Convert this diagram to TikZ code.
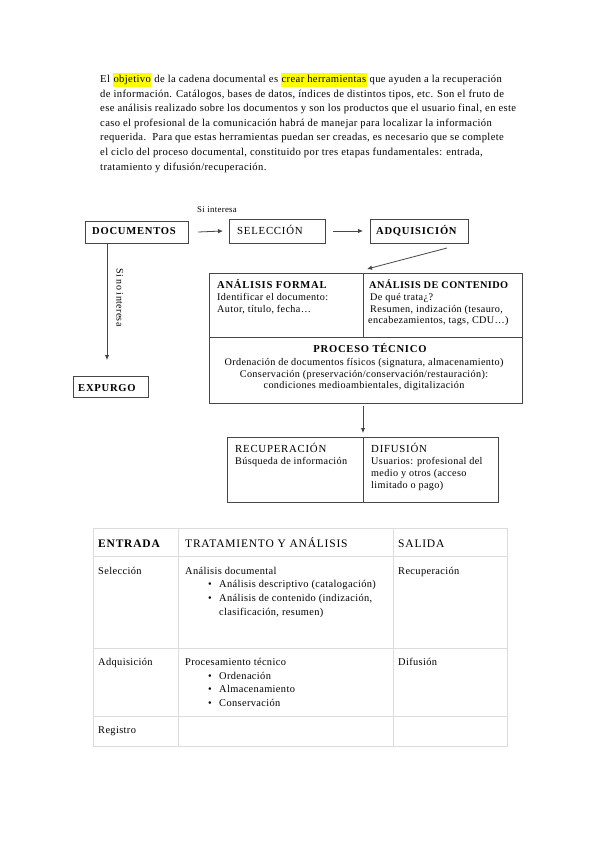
\documentclass[tikz,border=0pt]{standalone}
\usepackage{fontspec}
\setmainfont[LetterSpace=3.5]{Liberation Serif}
\newfontfamily\hdfont[LetterSpace=7]{Liberation Serif}
\newfontfamily\hdtightfont[LetterSpace=4]{Liberation Serif}
\usetikzlibrary{arrows.meta}
\definecolor{boxgray}{HTML}{474747}
\definecolor{tabgray}{HTML}{DCDCDC}
\definecolor{hlyellow}{HTML}{FFFF00}
\newcommand{\hlt}[1]{{\setlength{\fboxsep}{0.5pt}\colorbox{hlyellow}{\strut #1}}}
\begin{document}
\begin{tikzpicture}[x=1pt,y=-1pt,
  ptxt/.style={anchor=base west, inner sep=0pt, font=\fontsize{10.6}{12.5}\selectfont},
  btxt/.style={anchor=base west, inner sep=0pt, font=\fontsize{10.2}{12}\selectfont},
  htxt/.style={anchor=base west, inner sep=0pt, font=\hdfont\fontsize{10.6}{12}\selectfont\bfseries},
  hrtxt/.style={anchor=base west, inner sep=0pt, font=\hdfont\fontsize{10.8}{12}\selectfont},
  ttxt/.style={anchor=base west, inner sep=0pt, font=\fontsize{10.4}{12}\selectfont},
  thead/.style={anchor=base west, inner sep=0pt, font=\hdfont\fontsize{11.5}{13}\selectfont},
  box/.style={draw=boxgray, line width=0.8pt, anchor=north west, inner sep=0pt, outer sep=0pt},
  cell/.style={draw=tabgray, line width=0.8pt, anchor=north west, inner sep=0pt, outer sep=0pt},
  arr/.style={draw=boxgray, line width=0.8pt, -{Latex[length=5pt,width=4.5pt]}},
]
\useasboundingbox[fill=white] (0,0) rectangle (599,848);

% paragraph
\node[ptxt] (p1) at (100,82.5) {El \hlt{objetivo} de la cadena documental es \hlt{crear herramientas} que ayuden a la recuperación};
\node[ptxt] (p2) at (100,97.1) {de información. Catálogos, bases de datos, índices de distintos tipos, etc. Son el fruto de};
\node[ptxt] (p3) at (100,111.7) {ese análisis realizado sobre los documentos y son los productos que el usuario final, en este};
\node[ptxt] (p4) at (100,126.3) {caso el profesional de la comunicación habrá de manejar para localizar la información};
\node[ptxt] (p5) at (100,140.9) {requerida.\ \ Para que estas herramientas puedan ser creadas, es necesario que se complete};
\node[ptxt] (p6) at (100,155.5) {el ciclo del proceso documental, constituido por tres etapas fundamentales: entrada,};
\node[ptxt] (p7) at (100,170.1) {tratamiento y difusión/recuperación.};

% top row boxes
\node[box, minimum width=103, minimum height=22] (doc) at (85,221) {};
\node[htxt] (doct) at (92,234.5) {DOCUMENTOS};
\node[box, minimum width=96, minimum height=24] (sel) at (229,219) {};
\node[hrtxt] (selt) at (237,234.5) {SELECCIÓN};
\node[box, minimum width=98, minimum height=24] (adq) at (370,219) {};
\node[htxt] (adqt) at (376,234.5) {ADQUISICIÓN};
\node[anchor=base west, inner sep=0pt, font=\fontsize{8.8}{10}\selectfont] (si) at (197,212) {Si interesa};

\draw[arr] ([xshift=10pt]doc.east) -- ([xshift=-6pt]sel.west);
\draw[arr] ([xshift=8pt]sel.east) -- ([xshift=-7pt]adq.west);

% expurgo
\node[box, minimum width=75, minimum height=21] (exp) at (73,376) {};
\node[htxt] (expt) at (78,391) {EXPURGO};
\coordinate (c1) at (107,360);
\draw[arr] ([xshift=22pt]doc.south west) -- (c1);
\node[anchor=north west, inner sep=0pt, rotate=-90, font=\fontsize{10}{11}\selectfont] (sino) at (123.5,268) {Si no interesa};

% big box
\node[box, minimum width=154, minimum height=64] (formal) at (209,273) {};
\node[box, minimum width=159, minimum height=64] (cont) at (363,273) {};
\node[box, minimum width=313, minimum height=66] (proc) at (209,337) {};
\node[htxt] (formalh) at (217,288) {ANÁLISIS FORMAL};
\node[btxt] (formal1) at (217,300.5) {Identificar el documento:};
\node[btxt] (formal2) at (217,312) {Autor, título, fecha…};
\node[htxt, font=\hdtightfont\fontsize{10.3}{12}\selectfont\bfseries] (conth) at (369,288) {ANÁLISIS DE CONTENIDO};
\node[btxt] (cont1) at (370,300.5) {De qué trata¿?};
\node[btxt] (cont2) at (370,312) {Resumen, indización (tesauro,};
\node[btxt] (cont3) at (368,323.5) {encabezamientos, tags, CDU…)};
\node[htxt, anchor=base] (proch) at (370,352) {PROCESO TÉCNICO};
\node[btxt, anchor=base] (proc1) at (364,365.5) {Ordenación de documentos físicos (signatura, almacenamiento)};
\node[btxt, anchor=base] (proc2) at (364,377) {Conservación (preservación/conservación/restauración):};
\node[btxt, anchor=base] (proc3) at (364,388.5) {condiciones medioambientales, digitalización};

\draw[arr] ([xshift=-21pt,yshift=-5pt]adq.south east) -- ([xshift=4pt,yshift=4pt]formal.north east);

% bottom boxes
\node[box, minimum width=136, minimum height=65] (rec) at (227,437) {};
\node[box, minimum width=135, minimum height=65] (dif) at (363,437) {};
\node[hrtxt] (rech) at (235,452) {RECUPERACIÓN};
\node[btxt] (rec1) at (235,464.5) {Búsqueda de información};
\node[hrtxt] (difh) at (371,452) {DIFUSIÓN};
\node[btxt] (dif1) at (371,464.5) {Usuarios: profesional del};
\node[btxt] (dif2) at (371,476.5) {medio y otros (acceso};
\node[btxt] (dif3) at (371,488.5) {limitado o pago)};
\draw[arr] ([yshift=-3pt]proc.south -| rec.north east) -- ([yshift=4pt]rec.north east);

% table
\node[cell, minimum width=85, minimum height=28] (h1) at (93,528) {};
\node[cell, minimum width=215, minimum height=28] (h2) at (178,528) {};
\node[cell, minimum width=114, minimum height=28] (h3) at (393,528) {};
\node[cell, minimum width=85, minimum height=92] (r1a) at (93,556) {};
\node[cell, minimum width=215, minimum height=92] (r1b) at (178,556) {};
\node[cell, minimum width=114, minimum height=92] (r1c) at (393,556) {};
\node[cell, minimum width=85, minimum height=68] (r2a) at (93,648) {};
\node[cell, minimum width=215, minimum height=68] (r2b) at (178,648) {};
\node[cell, minimum width=114, minimum height=68] (r2c) at (393,648) {};
\node[cell, minimum width=85, minimum height=30] (r3a) at (93,716) {};
\node[cell, minimum width=215, minimum height=30] (r3b) at (178,716) {};
\node[cell, minimum width=114, minimum height=30] (r3c) at (393,716) {};

\node[thead, font=\hdfont\fontsize{11.5}{13}\selectfont\bfseries] (h1t) at (98,547) {ENTRADA};
\node[thead] (h2t) at (185,547) {TRATAMIENTO Y ANÁLISIS};
\node[thead] (h3t) at (398,547) {SALIDA};

\node[ttxt] (t11) at (98,574.5) {Selección};
\node[ttxt] (t12) at (185,574.5) {Análisis documental};
\node[ttxt] (b1) at (208,587.5) {•};
\node[ttxt] (t13) at (219,587.5) {Análisis descriptivo (catalogación)};
\node[ttxt] (b2) at (208,601.5) {•};
\node[ttxt] (t14) at (219,601.5) {Análisis de contenido (indización,};
\node[ttxt] (t15) at (219,615) {clasificación, resumen)};
\node[ttxt] (t16) at (398,574.5) {Recuperación};

\node[ttxt] (t21) at (98,665.5) {Adquisición};
\node[ttxt] (t22) at (185,665.5) {Procesamiento técnico};
\node[ttxt] (b3) at (208,679) {•};
\node[ttxt] (t23) at (219,679) {Ordenación};
\node[ttxt] (b4) at (208,692.5) {•};
\node[ttxt] (t24) at (219,692.5) {Almacenamiento};
\node[ttxt] (b5) at (208,706) {•};
\node[ttxt] (t25) at (219,706) {Conservación};
\node[ttxt] (t26) at (398,665.5) {Difusión};

\node[ttxt] (t31) at (98,733.5) {Registro};
\end{tikzpicture}
\end{document}
